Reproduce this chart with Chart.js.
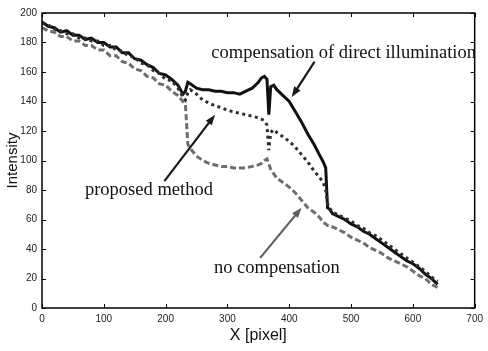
<!DOCTYPE html>
<html>
<head>
<meta charset="utf-8">
<script src="https://cdn.jsdelivr.net/npm/chart.js@4.4.1/dist/chart.umd.min.js"></script>
<style>
  html, body { margin: 0; padding: 0; background: #fff; }
  #wrap { width: 488px; height: 351px; }
</style>
</head>
<body>
<div id="wrap"><canvas id="myChart" width="488" height="351"></canvas></div>
<script>
// x positions (pixel) shared by all three profiles
const xPixels = [0,10,20,30,40,50,60,70,80,90,100,110,120,130,140,150,160,170,180,190,200,210,220,
  228,232,236,240,250,260,270,280,290,300,310,320,330,340,350,355,360,364,367,370,375,
  380,390,400,410,420,430,440,450,455,459,462,465,470,480,490,500,510,520,530,540,550,560,
  570,580,590,600,610,620,630,640];

const directComp = [194,191,190,187,188,185,185,182,183,180,180,177,177,173,173,169,168,165,163,159,158,155,151,
  145,147,153,152,149,148,148,147,147,146,146,145,147,149,153,156,157,155,131,150,151,
  148,144,140,133,126,118,111,103,99,95,68,67,64,62,60,57,55,52,50,47,44,41,
  38,35,32,30,27,23,20,16];

const proposed = [193,192,189,188,186,186,183,183,181,181,178,178,175,174,171,170,166,165,161,159,155,154,149,
  143,141,146,148,145,141,139,137,136,134,133,132,131,130,129,128,127,124,107,119,121,
  119,116,113,109,104,99,93,88,85,80,71,68,65,63,61,59,56,54,51,49,46,43,
  40,37,34,31,28,25,21,18];

const noComp = [190,188,187,184,184,181,181,178,178,175,175,171,171,167,166,162,161,157,156,152,151,147,144,
  140,138,111,108,103,100,98,97,96,96,95,95,95,96,97,98,100,101,98,94,91,
  88,85,82,78,73,68,65,61,58,57,56,56,55,53,51,48,46,44,41,39,37,34,
  32,30,28,25,22,20,16,14];

const xTicks = [0,100,200,300,400,500,600,700];
const yTicks = [0,20,40,60,80,100,120,140,160,180,200];

function toPoints(ys) {
  return ys.map((y, i) => ({ x: xPixels[i], y: y }));
}

// labels with arrows, given in data coordinates
const notes = [
  { text: 'compensation of direct illumination', x: 488, y: 173, from: [441, 167], to: [404, 143], color: '#1a1a1a' },
  { text: 'proposed method', x: 173, y: 80, from: [198, 86], to: [280, 131], color: '#1a1a1a' },
  { text: 'no compensation', x: 380, y: 27, from: [353, 34], to: [420, 68], color: '#606060' }
];

const framePlugin = {
  id: 'frame',
  afterDraw(chart) {
    const c = chart.ctx;
    const a = chart.chartArea;
    const xs = chart.scales.x, ys = chart.scales.y;
    c.save();
    c.strokeStyle = '#000';
    c.lineWidth = 1.5;
    c.strokeRect(a.left, a.top, a.right - a.left, a.bottom - a.top);
    c.lineWidth = 1;
    xTicks.forEach(v => {
      const px = Math.round(xs.getPixelForValue(v)) + 0.5;
      c.beginPath();
      c.moveTo(px, a.bottom); c.lineTo(px, a.bottom - 4);
      c.moveTo(px, a.top); c.lineTo(px, a.top + 4);
      c.stroke();
    });
    yTicks.forEach(v => {
      const py = Math.round(ys.getPixelForValue(v)) + 0.5;
      c.beginPath();
      c.moveTo(a.left, py); c.lineTo(a.left + 4, py);
      c.moveTo(a.right, py); c.lineTo(a.right - 4, py);
      c.stroke();
    });

    // annotations
    c.font = '18.5px "Liberation Serif", "DejaVu Serif", serif';
    c.textAlign = 'center';
    c.textBaseline = 'middle';
    notes.forEach(n => {
      c.fillStyle = '#111';
      c.fillText(n.text, xs.getPixelForValue(n.x), ys.getPixelForValue(n.y));
      const x1 = xs.getPixelForValue(n.from[0]), y1 = ys.getPixelForValue(n.from[1]);
      const x2 = xs.getPixelForValue(n.to[0]), y2 = ys.getPixelForValue(n.to[1]);
      const ang = Math.atan2(y2 - y1, x2 - x1);
      c.strokeStyle = n.color;
      c.fillStyle = n.color;
      c.lineWidth = 2.2;
      c.beginPath();
      c.moveTo(x1, y1);
      c.lineTo(x2 - 8 * Math.cos(ang), y2 - 8 * Math.sin(ang));
      c.stroke();
      c.beginPath();
      c.moveTo(x2, y2);
      c.lineTo(x2 - 11 * Math.cos(ang - 0.35), y2 - 11 * Math.sin(ang - 0.35));
      c.lineTo(x2 - 11 * Math.cos(ang + 0.35), y2 - 11 * Math.sin(ang + 0.35));
      c.closePath();
      c.fill();
    });
    c.restore();
  }
};

const ctx = document.getElementById('myChart').getContext('2d');
const myChart = new Chart(ctx, {
  type: 'line',
  data: {
    datasets: [
      {
        label: 'no compensation',
        data: toPoints(noComp),
        borderColor: '#6e6e6e',
        borderWidth: 3,
        borderDash: [6, 3],
        pointRadius: 0,
        tension: 0
      },
      {
        label: 'proposed method',
        data: toPoints(proposed),
        borderColor: '#2e2e2e',
        borderWidth: 3,
        borderDash: [3, 3.5],
        pointRadius: 0,
        tension: 0
      },
      {
        label: 'compensation of direct illumination',
        data: toPoints(directComp),
        borderColor: '#111111',
        borderWidth: 3,
        pointRadius: 0,
        tension: 0
      }
    ]
  },
  plugins: [framePlugin],
  options: {
    responsive: false,
    animation: false,
    layout: { padding: { top: 13, right: 8, left: 0, bottom: 0 } },
    plugins: {
      legend: { display: false },
      tooltip: { enabled: false }
    },
    scales: {
      x: {
        type: 'linear',
        min: 0,
        max: 700,
        afterFit: s => { s.height = 43; },
        afterBuildTicks: s => { s.ticks = xTicks.map(v => ({ value: v })); },
        grid: { display: false, drawTicks: false },
        border: { display: false },
        ticks: {
          color: '#222',
          font: { family: '"Liberation Sans", Arial, sans-serif', size: 10 },
          padding: 5,
          maxRotation: 0
        },
        title: {
          display: true,
          text: 'X [pixel]',
          color: '#111',
          font: { family: '"Liberation Sans", Arial, sans-serif', size: 16 },
          padding: { top: 0, bottom: 6 }
        }
      },
      y: {
        type: 'linear',
        min: 0,
        max: 200,
        afterFit: s => { s.width = 42; },
        afterBuildTicks: s => { s.ticks = yTicks.map(v => ({ value: v })); },
        grid: { display: false, drawTicks: false },
        border: { display: false },
        ticks: {
          color: '#222',
          font: { family: '"Liberation Sans", Arial, sans-serif', size: 10 },
          padding: 5
        },
        title: {
          display: true,
          text: 'Intensity',
          color: '#111',
          font: { family: '"Liberation Sans", Arial, sans-serif', size: 15 },
          padding: { top: 4, bottom: 0 }
        }
      }
    }
  }
});
</script>
</body>
</html>
